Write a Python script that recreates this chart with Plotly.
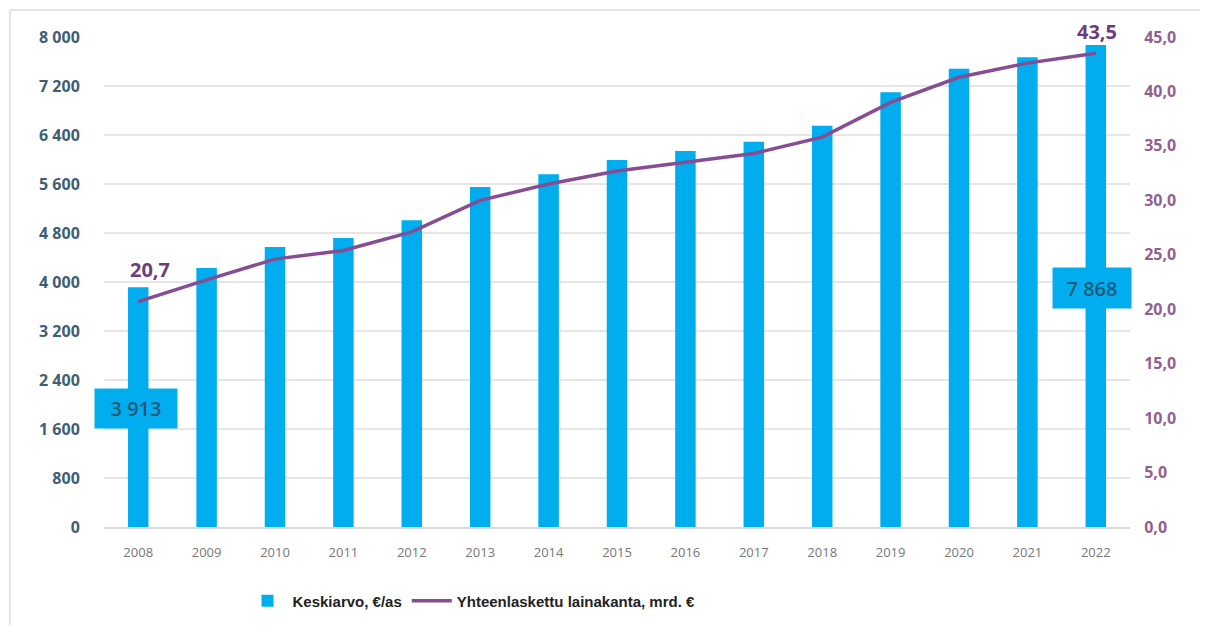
import plotly.graph_objects as go

# ---- data ----
years = [2008, 2009, 2010, 2011, 2012, 2013, 2014, 2015,
         2016, 2017, 2018, 2019, 2020, 2021, 2022]
avg_per_person = [3913, 4230, 4570, 4720, 5010, 5550, 5760, 5990,
                  6140, 6290, 6550, 7100, 7480, 7670, 7868]
total_stock = [20.7, 22.7, 24.6, 25.4, 27.1, 30.0, 31.5, 32.7,
               33.5, 34.3, 35.8, 39.0, 41.3, 42.6, 43.5]

bar_name = "Keskiarvo, €/as"
line_name = "Yhteenlaskettu lainakanta, mrd. €"

BAR_COLOR = "#00AEEF"
LINE_COLOR = "#864C94"
LEFT_TICK = "#3E5E74"
RIGHT_TICK = "#92608F"


def fi_int(v):
    return f"{v:,}".replace(",", " ")


def fi_dec(v):
    return f"{v:.1f}".replace(".", ",")


fig = go.Figure()

fig.add_trace(
    go.Bar(
        x=years,
        y=avg_per_person,
        name=bar_name,
        marker=dict(color=BAR_COLOR, line=dict(width=0)),
        width=0.3,
        yaxis="y",
    )
)

fig.add_trace(
    go.Scatter(
        x=years,
        y=total_stock,
        name=line_name,
        mode="lines",
        line=dict(color=LINE_COLOR, width=3.5),
        yaxis="y2",
    )
)

# value boxes on first and last bar
box_font = dict(family="Open Sans, sans-serif", size=20, color="#22597A", weight=600)
fig.add_annotation(
    x=years[0], y=1940, xref="x", yref="y", text=fi_int(avg_per_person[0]),
    showarrow=False, font=box_font, bgcolor=BAR_COLOR,
    width=70, height=27, borderpad=6, xshift=-2,
)
fig.add_annotation(
    x=years[-1], y=3895, xref="x", yref="y", text=fi_int(avg_per_person[-1]),
    showarrow=False, font=box_font, bgcolor=BAR_COLOR,
    width=66, height=28, borderpad=6, xshift=-4,
)

# first / last line labels
line_font = dict(family="Open Sans, sans-serif", size=20, color="#6E3C7E", weight="bold")
fig.add_annotation(
    x=years[0], y=total_stock[0], xref="x", yref="y2", text=fi_dec(total_stock[0]),
    showarrow=False, font=line_font, yshift=32, xshift=12,
)
fig.add_annotation(
    x=years[-1], y=total_stock[-1], xref="x", yref="y2", text=fi_dec(total_stock[-1]),
    showarrow=False, font=line_font, yshift=22, xshift=1,
)

# faint frame on top and left
fig.add_shape(type="line", xref="paper", yref="paper",
              x0=-0.0916, x1=1.08, y0=1.055, y1=1.055,
              line=dict(color="#DDDDDD", width=1.5))
fig.add_shape(type="line", xref="paper", yref="paper",
              x0=-0.0916, x1=-0.0916, y0=1.055, y1=-0.2,
              line=dict(color="#DDDDDD", width=1.5))

fig.update_layout(
    width=1200,
    height=621,
    margin=dict(l=96, r=78, t=29, b=102),
    paper_bgcolor="white",
    plot_bgcolor="white",
    separators=", ",
    showlegend=True,
    legend=dict(
        orientation="h",
        x=0.135, y=-0.151, xanchor="left", yanchor="middle",
        font=dict(family="Liberation Sans Narrow, Arial Narrow, sans-serif",
                  size=15, color="#222222", weight="bold"),
        itemwidth=40,
        traceorder="normal",
    ),
    xaxis=dict(
        range=[2007.5, 2022.5],
        tickvals=years,
        tickformat="d",
        tickfont=dict(family="Open Sans, sans-serif", size=13, color="#777777"),
        showgrid=False,
        zeroline=False,
        showline=True,
        linecolor="#D9D9D9",
        linewidth=1.5,
        ticks="outside",
        ticklen=13,
        tickcolor="rgba(0,0,0,0)",
    ),
    yaxis=dict(
        range=[0, 8000],
        tickvals=list(range(0, 8001, 800)),
        tickformat=",d",
        tickfont=dict(family="Open Sans, sans-serif", size=16, color=LEFT_TICK, weight="bold"),
        gridcolor="#E6E6E6",
        gridwidth=1.5,
        zeroline=False,
        ticks="outside",
        ticklen=20,
        tickcolor="rgba(0,0,0,0)",
    ),
    yaxis2=dict(
        overlaying="y",
        side="right",
        range=[0, 45],
        tickvals=[0, 5, 10, 15, 20, 25, 30, 35, 40, 45],
        tickformat=".1f",
        tickfont=dict(family="Open Sans, sans-serif", size=16, color=RIGHT_TICK, weight="bold"),
        showgrid=False,
        zeroline=False,
        ticks="outside",
        ticklen=10,
        tickcolor="rgba(0,0,0,0)",
    ),
)

fig.write_html("out.html")
